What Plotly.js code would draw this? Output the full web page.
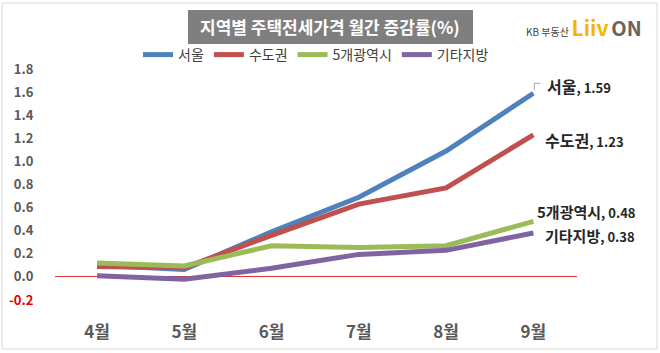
<!DOCTYPE html>
<html><head><meta charset="utf-8">
<script src="https://cdn.plot.ly/plotly-3.0.1.min.js"></script>
<style>html,body{margin:0;padding:0;background:#fff}#c{width:660px;height:353px}</style>
</head><body><div id="c"></div>
<script>
var months = ['4월','5월','6월','7월','8월','9월'];
var seriesNames = ['서울','수도권','5개광역시','기타지방'];
var seoul   = [0.10, 0.065, 0.39, 0.69, 1.09, 1.59];
var capital = [0.09, 0.08, 0.36, 0.63, 0.77, 1.23];
var metro5  = [0.12, 0.095, 0.27, 0.255, 0.27, 0.48];
var others  = [0.01, -0.02, 0.075, 0.195, 0.23, 0.38];
var yTicks = [-0.2,0,0.2,0.4,0.6,0.8,1.0,1.2,1.4,1.6,1.8];

var colors = ['#4F81BD','#C0504D','#9BBB59','#8064A2'];
var allSeries = [seoul, capital, metro5, others];
var idx = months.map(function(_, i){ return i; });
var FONT = '"Noto Sans CJK KR", "Noto Sans", sans-serif';

var traces = allSeries.map(function(s, k){
  return {type:'scatter', mode:'lines', name:seriesNames[k], x:idx, y:s,
    line:{color:colors[k], width:5}, hoverinfo:'skip'};
});

var last = months.length - 1;
var labelShift = [[12,7],[10,-5],[2,10],[10,-2]];
var nameSize = [16,16,15,15];
var annotations = allSeries.map(function(s, k){
  return {x:last, y:s[last], xref:'x', yref:'y', xanchor:'left', yanchor:'middle',
    xshift:labelShift[k][0], yshift:labelShift[k][1], showarrow:false,
    text:'<b>'+seriesNames[k]+'</b><span style="font-size:13px"><b>, '+s[last].toFixed(2)+'</b></span>',
    font:{family:FONT, size:nameSize[k], color:'#262626'}};
});
annotations.push({xref:'paper', yref:'paper', x:(330-55)/522, y:(300-27)/231, xanchor:'center', yanchor:'middle',
  showarrow:false, text:'<b>지역별 주택전세가격 월간 증감률(%)</b>',
  font:{family:FONT, size:17, color:'#ffffff'}});
annotations.push({xref:'paper', yref:'paper', x:(584-55)/522, y:(300-27)/231, xanchor:'center', yanchor:'middle',
  showarrow:false,
  text:'<span style="font-size:10px;color:#444444">KB 부동산</span> <b><span style="color:#F6B500;font-size:21px">Liiv</span> <span style="color:#6b625a;font-size:20px">ON</span></b>',
  font:{family:FONT, size:12, color:'#444'}});

function px(x){ return (x-55)/522; }
function py(y){ return (300-y)/231; }

var layout = {
  width:660, height:353,
  margin:{l:55, r:83, t:69, b:53},
  paper_bgcolor:'#ffffff', plot_bgcolor:'#ffffff',
  font:{family:FONT},
  showlegend:true,
  legend:{orientation:'h', x:(316-55)/522, xanchor:'center', y:py(55), yanchor:'middle',
    font:{family:FONT, size:14, color:'#404040'}, itemwidth:30, traceorder:'normal', bgcolor:'rgba(0,0,0,0)'},
  xaxis:{range:[-0.482, 5.5], tickmode:'array', tickvals:idx, ticktext:months,
    showgrid:false, zeroline:false, showline:false, ticks:'outside', ticklen:17, tickcolor:'rgba(0,0,0,0)',
    tickfont:{family:FONT, size:17, color:'#595959', weight:'bold'}},
  yaxis:{range:[-0.2, 1.8], tickmode:'array', tickvals:yTicks,
    ticktext:yTicks.map(function(v){ var t=v.toFixed(1); return v<0 ? '<span style="color:#e00000">'+t+'</span>' : t; }),
    showgrid:false, zeroline:true, zerolinecolor:'#e03030', zerolinewidth:1, showline:false,
    ticks:'outside', ticklen:18, tickcolor:'rgba(0,0,0,0)',
    tickfont:{family:FONT, size:13, color:'#595959', weight:'bold'}},
  shapes:[
    {type:'rect', xref:'paper', yref:'paper', x0:px(188), x1:px(473), y0:py(44), y1:py(10),
      fillcolor:'#7f7f7f', line:{width:0}, layer:'below'},
    {type:'rect', xref:'paper', yref:'paper', x0:px(2), x1:px(657), y0:py(349), y1:py(3),
      fillcolor:'rgba(0,0,0,0)', line:{color:'#d9d9d9', width:1}},
    {type:'path', xref:'x', yref:'y', xsizemode:'pixel', ysizemode:'pixel', xanchor:last, yanchor:seoul[last],
      path:'M 1 3 L 1 10 L 7 10', line:{color:'#a6a6a6', width:1}}
  ],
  annotations:annotations
};
Plotly.newPlot('c', traces, layout, {staticPlot:true, displayModeBar:false});
</script></body></html>
